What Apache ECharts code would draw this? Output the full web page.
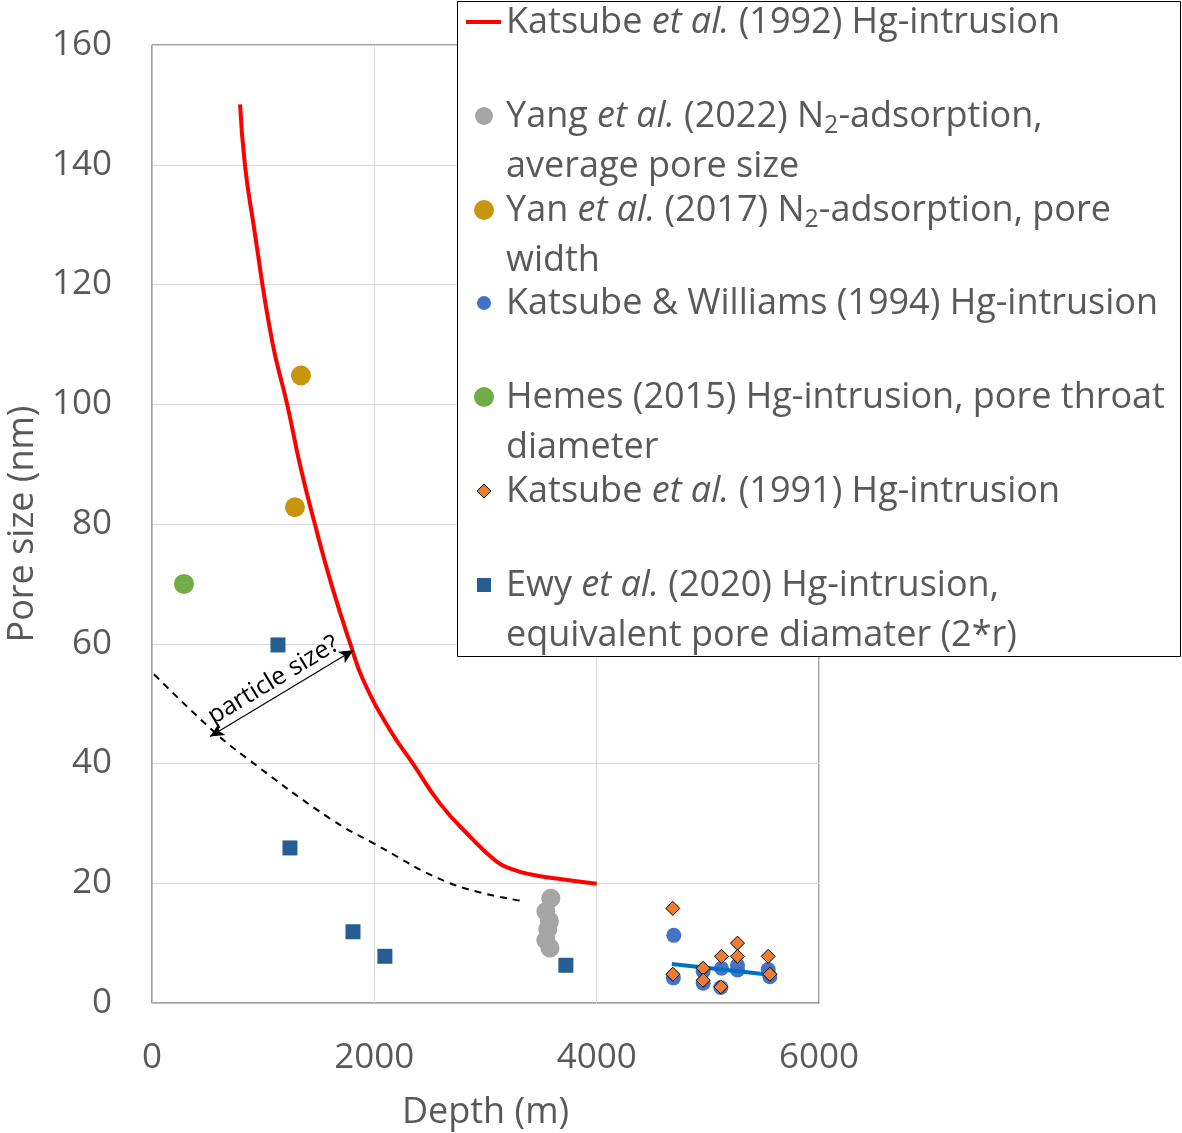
<!DOCTYPE html>
<html>
<head>
<meta charset="utf-8">
<script src="https://cdn.jsdelivr.net/npm/echarts@6/dist/echarts.min.js"></script>
<style>
html,body{margin:0;padding:0;background:#fff;}
#chart{width:1182px;height:1133px;}
</style>
</head>
<body>
<div id="chart"></div>
<script>
// ---------- DATA ----------
const katsube1992 = [[792,150.1],[837,139.8],[911,130.3],[1079,110.7],[1217,99.9],[1331,89.9],[1466,79.9],[1616,69.8],[1787,59.8],[1901,53.9],[2141,45.6],[2350,39.9],[2591,33.3],[2861,27.8],[3101,23.6],[3230,22.4],[3400,21.5],[3640,20.8],[4000,19.9]];
const yang2022 = [[3588,17.5],[3543,15.3],[3575,13.7],[3560,12.3],[3543,10.5],[3580,9.2]];
const yan2017 = [[1340,104.8],[1286,82.8]];
const katsubeWilliams1994 = [[4694,11.3],[4690,4.2],[4958,3.3],[4958,5.3],[5117,2.6],[5123,5.8],[5267,6.3],[5267,5.5],[5543,5.6],[5558,4.4]];
const katsubeWilliamsTrend = [[4676,6.5],[5557,4.7]];
const hemes2015 = [[288,70]];
const katsube1991 = [[4685,15.8],[4685,4.8],[4958,5.8],[4958,3.8],[5117,2.7],[5123,7.8],[5267,10],[5267,7.8],[5543,7.8],[5558,4.8]];
const ewy2020 = [[1133,59.8],[1241,25.9],[1808,11.9],[2095,7.8],[3723,6.3]];
const particleTrend = [[-63,56.4],[522,45.9],[851,40.9],[1601,30.8],[1990,26.7],[2680,20],[3309,17.1]];
const particleArrow = [[522,44.5],[1811,58.9]];
const xTicks = {min:0, max:6000, interval:2000};
const yTicks = {min:0, max:160, interval:20};
const seriesNames = ['Katsube et al. (1992) Hg-intrusion','Yang et al. (2022) N2-adsorption, average pore size','Yan et al. (2017) N2-adsorption, pore width','Katsube & Williams (1994) Hg-intrusion','Hemes (2015) Hg-intrusion, pore throat diameter','Katsube et al. (1991) Hg-intrusion','Ewy et al. (2020) Hg-intrusion, equivalent pore diamater (2*r)'];

// ---------- CHART ----------
const FONT = '"Open Sans", Lato, sans-serif';
const TXT = '#595959';
const chart = echarts.init(document.getElementById('chart'), null, {renderer:'canvas'});

const rich = {
  n:{fontSize:36, fontFamily:FONT, fill:TXT, lineHeight:42},
  i:{fontSize:36, fontFamily:FONT, fill:TXT, fontStyle:'italic', lineHeight:42},
  s:{fontSize:25, fontFamily:FONT, fill:TXT, lineHeight:21, verticalAlign:'bottom'}
};
function legText(y, t){
  return {type:'text', x:506, y:y+1, z:101, style:{text:t, rich:rich, fontFamily:FONT, fontSize:36, fill:TXT, verticalAlign:'middle', align:'left'}};
}
const LX = 484;
const graphic = [
  {type:'rect', shape:{x:457.5,y:1.5,width:723,height:655}, style:{fill:'#fff', stroke:'#000', lineWidth:1}, z:100},
  {type:'line', shape:{x1:466,y1:22,x2:501,y2:22}, style:{stroke:'#FF0000', lineWidth:4}, z:101},
  legText(22,'{n|Katsube }{i|et al.}{n| (1992) Hg-intrusion}'),
  {type:'circle', shape:{cx:LX,cy:116,r:9}, style:{fill:'#A5A5A5'}, z:101},
  legText(116,'{n|Yang }{i|et al.}{n| (2022) N}{s|2}{n|-adsorption,}'),
  legText(166,'{n|average pore size}'),
  {type:'circle', shape:{cx:LX,cy:210,r:10}, style:{fill:'#C8960C'}, z:101},
  legText(210,'{n|Yan }{i|et al.}{n| (2017) N}{s|2}{n|-adsorption, pore}'),
  legText(260,'{n|width}'),
  {type:'circle', shape:{cx:LX,cy:303,r:7}, style:{fill:'#4472C4'}, z:101},
  legText(303,'{n|Katsube & Williams (1994) Hg-intrusion}'),
  {type:'circle', shape:{cx:LX,cy:397,r:10}, style:{fill:'#70AD47'}, z:101},
  legText(397,'{n|Hemes (2015) Hg-intrusion, pore throat}'),
  legText(447,'{n|diameter}'),
  {type:'polygon', shape:{points:[[LX,484],[LX+7,491],[LX,498],[LX-7,491]]}, style:{fill:'#ED7D31', stroke:'#000', lineWidth:1}, z:101},
  legText(491,'{n|Katsube }{i|et al.}{n| (1991) Hg-intrusion}'),
  {type:'rect', shape:{x:LX-7,y:578,width:14,height:14}, style:{fill:'#255E91'}, z:101},
  legText(585,'{n|Ewy }{i|et al.}{n| (2020) Hg-intrusion,}'),
  legText(635,'{n|equivalent pore diamater (2*r)}')
];

const option = {
  backgroundColor:'#fff',
  animation:false,
  grid:{left:152, right:363, top:45, bottom:130, containLabel:false, outerBoundsMode:'none', show:true, borderColor:'#404040', borderWidth:1, backgroundColor:'transparent'},
  xAxis:{
    type:'value', min:xTicks.min, max:xTicks.max, interval:xTicks.interval,
    name:'Depth (m)', nameLocation:'middle', nameGap:92,
    nameTextStyle:{fontSize:36, color:TXT, fontFamily:FONT},
    axisLine:{show:true, onZero:false, lineStyle:{color:'#BFBFBF', width:1}},
    axisTick:{show:false},
    axisLabel:{fontSize:35, color:TXT, fontFamily:FONT, margin:38, formatter:(v)=>String(v)},
    splitLine:{show:true, lineStyle:{color:'#D9D9D9', width:1}}
  },
  yAxis:{
    type:'value', min:yTicks.min, max:yTicks.max, interval:yTicks.interval,
    name:'Pore size (nm)', nameLocation:'middle', nameGap:106,
    nameTextStyle:{fontSize:36, color:TXT, fontFamily:FONT},
    axisLine:{show:true, onZero:false, lineStyle:{color:'#BFBFBF', width:1}},
    axisTick:{show:false},
    axisLabel:{fontSize:35, color:TXT, fontFamily:FONT, margin:40, formatter:(v)=>String(v)},
    splitLine:{show:true, lineStyle:{color:'#D9D9D9', width:1}}
  },
  graphic: graphic,
  series:[
    {name:'particle size trend', type:'line', data:particleTrend, smooth:0.4, showSymbol:false, symbol:'none', clip:false,
     lineStyle:{color:'#000', width:2, type:[7,6]}, z:3,
     markLine:{silent:true, symbol:['arrow','arrow'], symbolSize:[10,14], precision:2,
       lineStyle:{color:'#000', width:1.2, type:'solid'},
       label:{show:true, position:'insideMiddleTop', formatter:'particle size?', color:'#000', fontSize:25, fontFamily:FONT, distance:3},
       data:[[{coord:particleArrow[0]},{coord:particleArrow[1]}]]}},
    {name:seriesNames[0], type:'line', data:katsube1992, smooth:0.5, showSymbol:false, symbol:'none',
     lineStyle:{color:'#FF0000', width:4}, z:4},
    {name:seriesNames[1], type:'scatter', data:yang2022, symbol:'circle', symbolSize:19, itemStyle:{color:'#A5A5A5', opacity:1}, z:5},
    {name:seriesNames[2], type:'scatter', data:yan2017, symbol:'circle', symbolSize:20, itemStyle:{color:'#C8960C', opacity:1}, z:5},
    {name:seriesNames[3], type:'scatter', data:katsubeWilliams1994, symbol:'circle', symbolSize:15, itemStyle:{color:'#4472C4', opacity:1}, z:5},
    {name:'Katsube & Williams trend', type:'line', data:katsubeWilliamsTrend, showSymbol:false, symbol:'none',
     lineStyle:{color:'#0070C0', width:4}, z:6},
    {name:seriesNames[4], type:'scatter', data:hemes2015, symbol:'circle', symbolSize:20, itemStyle:{color:'#70AD47', opacity:1}, z:5},
    {name:seriesNames[5], type:'scatter', data:katsube1991, symbol:'diamond', symbolSize:14, itemStyle:{color:'#ED7D31', borderColor:'#000', borderWidth:1, opacity:1}, z:7},
    {name:seriesNames[6], type:'scatter', data:ewy2020, symbol:'rect', symbolSize:15, itemStyle:{color:'#255E91', opacity:1}, z:5}
  ]
};
chart.setOption(option);
</script>
</body>
</html>
